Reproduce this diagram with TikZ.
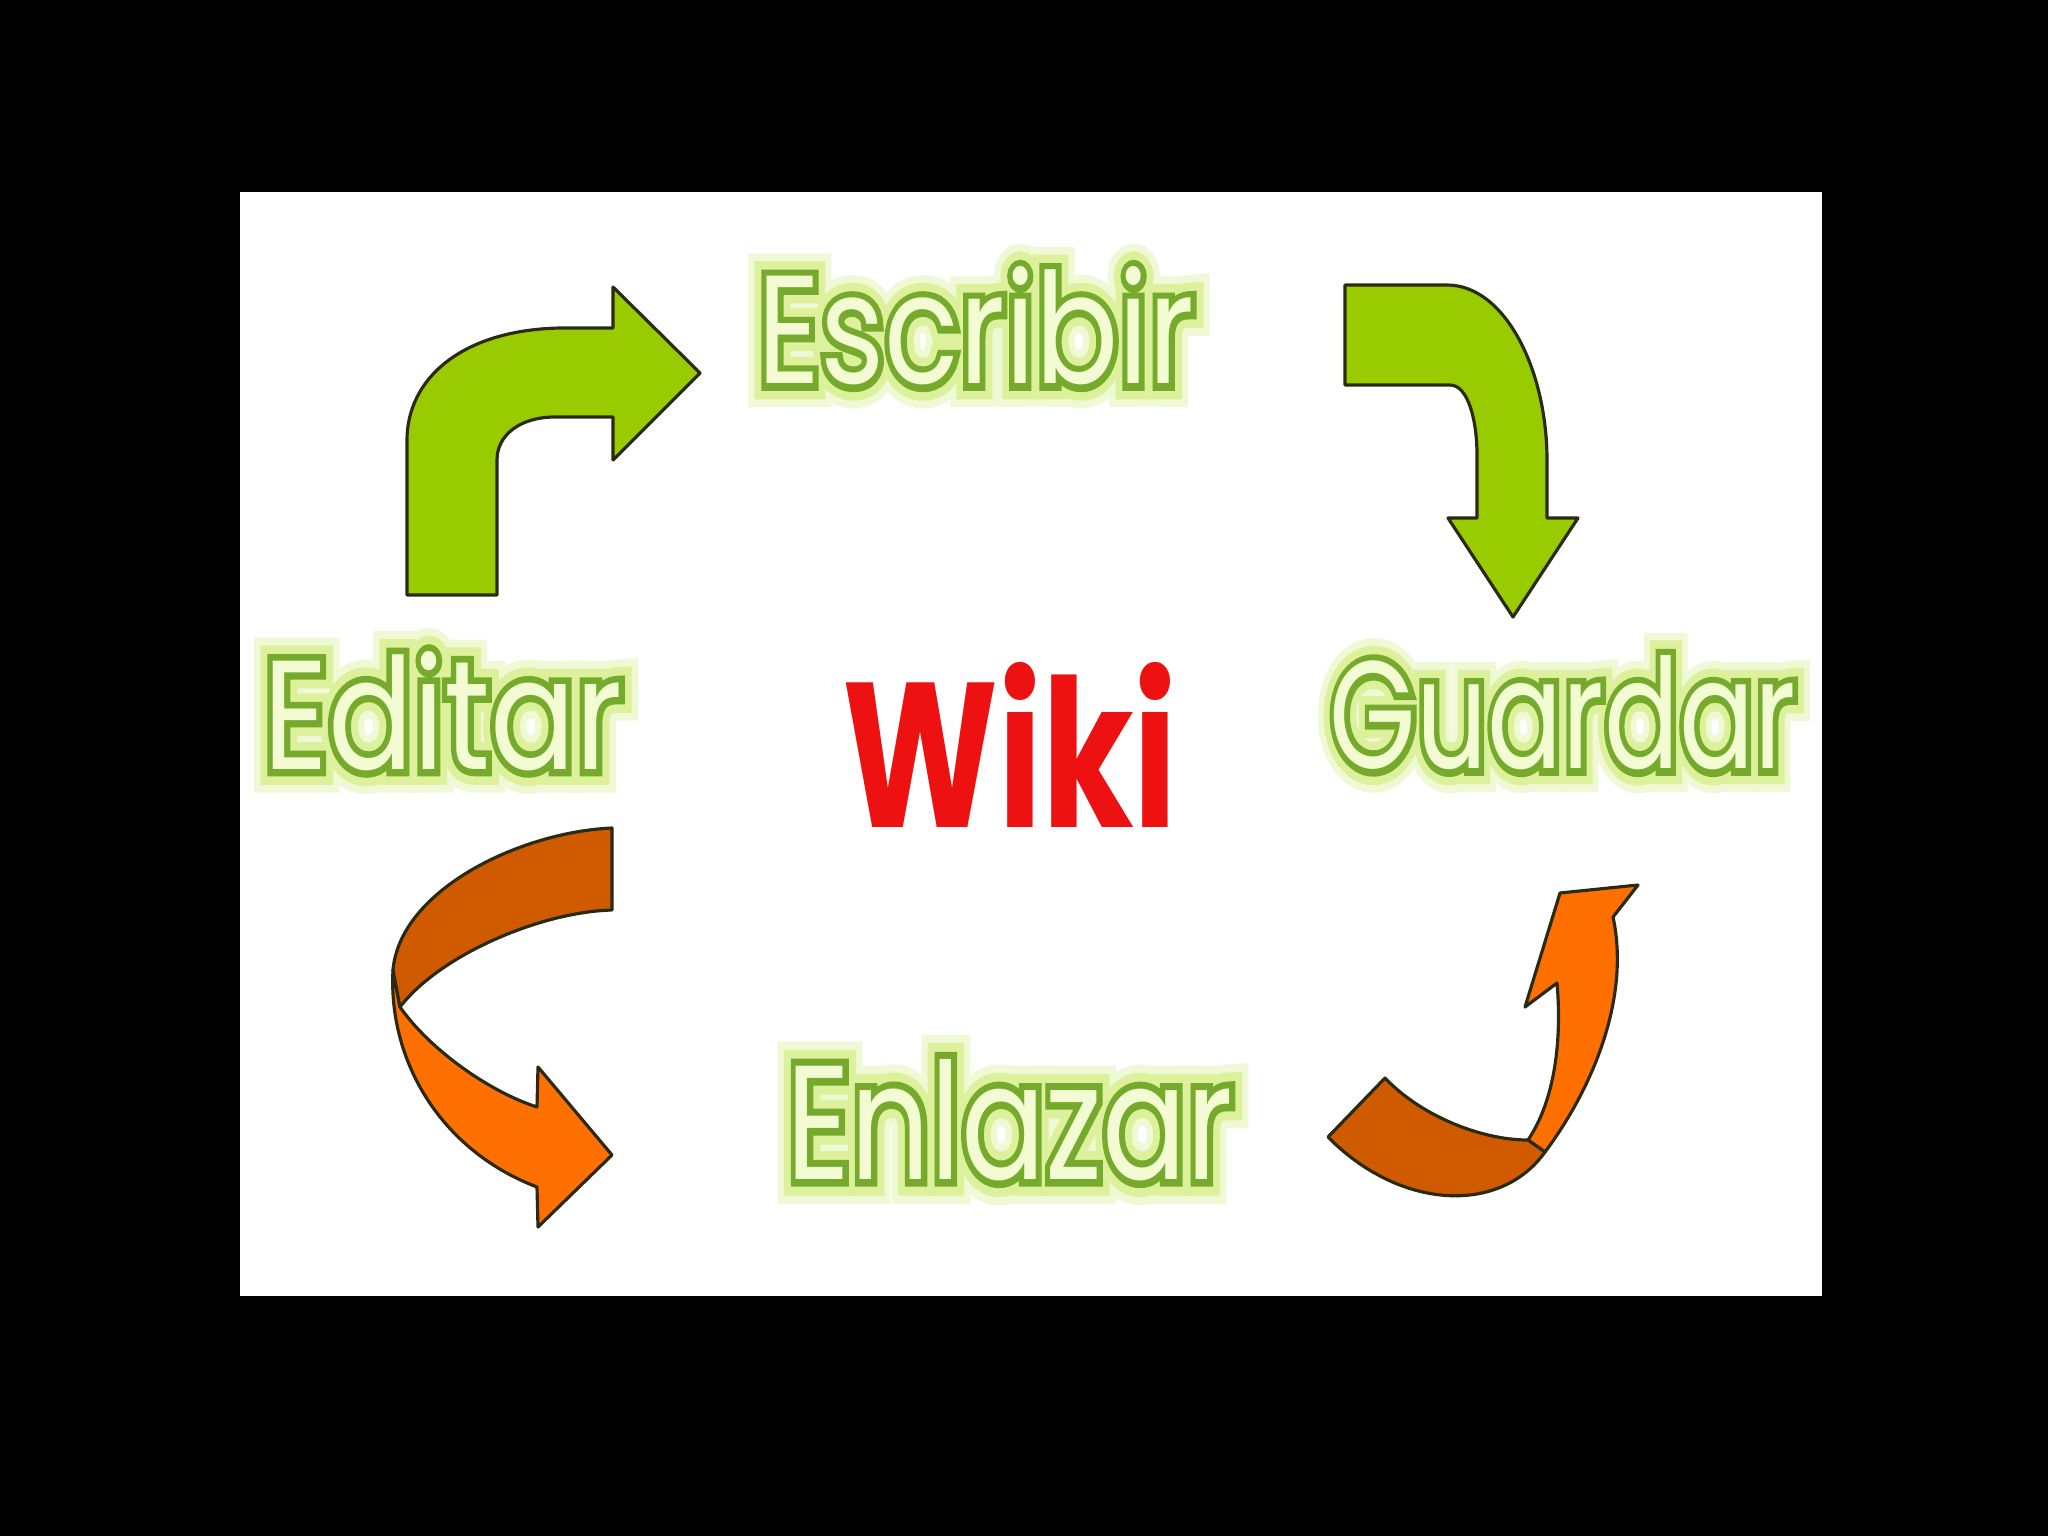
\documentclass[tikz,border=0pt]{standalone}
\usepackage{fontspec}
\setmainfont{Poppins}
\newfontfamily\glowfontA[FakeBold=30]{Poppins}
\newfontfamily\glowfontB[FakeBold=20]{Poppins}
\newfontfamily\edgefont[FakeBold=9]{Poppins}
\definecolor{arrowgreen}{HTML}{99CC00}
\definecolor{orangedark}{HTML}{D05A00}
\definecolor{orangelight}{HTML}{FF7000}
\definecolor{edgec}{HTML}{2A2A10}
\definecolor{darkg}{HTML}{76AA2C}
\definecolor{glowa}{HTML}{F0F9D6}
\definecolor{glowb}{HTML}{DDF19C}
\definecolor{fillc}{HTML}{F2FBD2}
\definecolor{wikired}{HTML}{EE1111}
\newcommand{\greenword}[5]{%
  \node[inner sep=0pt, text=glowa] (#1glowa) at (#2) {\resizebox{#3}{#4}{\glowfontA\fontsize{36}{40}\selectfont #5}};
  \node[inner sep=0pt, text=glowb] (#1glowb) at (#2) {\resizebox{#3}{#4}{\glowfontB\fontsize{36}{40}\selectfont #5}};
  \node[inner sep=0pt, text=darkg] (#1edge) at (#2) {\resizebox{#3}{#4}{\edgefont\fontsize{36}{40}\selectfont #5}};
  \node[inner sep=0pt, text=fillc] (#1) at (#2) {\resizebox{#3}{#4}{\fontsize{36}{40}\selectfont #5}};
}
\tikzset{
  shapearrow/.style={draw=edgec, line width=0.9pt, line join=round},
}
\begin{document}
\begin{tikzpicture}[x=0.01cm,y=-0.01cm]
\useasboundingbox (0,0) rectangle (2048,1536);
\fill[black] (0,0) rectangle (2048,1536);
\fill[white] (240,192) rectangle (1822,1296);

% top-left green arrow
\filldraw[shapearrow, fill=arrowgreen]
  (407,595) -- (407,440) .. controls (407,380) and (460,330) .. (560,328)
  -- (613,328) -- (613,287) -- (700,373) -- (613,460) -- (613,417) -- (555,417)
  .. controls (520,417) and (497,435) .. (497,460) -- (497,595) -- cycle;

% top-right green arrow
\filldraw[shapearrow, fill=arrowgreen]
  (1345,285) -- (1447,285) .. controls (1505,285) and (1547,370) .. (1547,460)
  -- (1547,518) -- (1578,518) -- (1513,617) -- (1448,518) -- (1477,518) -- (1477,455)
  .. controls (1477,420) and (1468,385) .. (1450,385) -- (1345,385) -- cycle;

% bottom-left orange ribbon arrow
\filldraw[shapearrow, fill=orangelight]
  (393,970) .. controls (388,1060) and (440,1150) .. (537,1187)
  -- (538,1227) -- (612,1155) -- (538,1067) -- (537,1107)
  .. controls (490,1092) and (430,1050) .. (400,1007) -- cycle;
\filldraw[shapearrow, fill=orangedark]
  (612,828) .. controls (520,832) and (400,890) .. (393,970)
  -- (400,1007) .. controls (440,955) and (540,912) .. (612,910) -- cycle;

% bottom-right orange ribbon arrow
\filldraw[shapearrow, fill=orangelight]
  (1528,1140) -- (1545,1152) .. controls (1595,1085) and (1630,995) .. (1613,917)
  -- (1638,885) -- (1560,893) -- (1525,1007) -- (1557,983)
  .. controls (1562,1040) and (1555,1100) .. (1528,1140) -- cycle;
\filldraw[shapearrow, fill=orangedark]
  (1385,1078) .. controls (1420,1115) and (1480,1140) .. (1528,1140)
  -- (1545,1152) .. controls (1500,1215) and (1400,1210) .. (1328,1137) -- cycle;

% words
\greenword{escribir}{976,326}{4.37cm}{1.17cm}{Escribir}
\greenword{editar}{443,711}{3.59cm}{1.18cm}{Editar}
\greenword{guardar}{1563,713}{4.66cm}{1.13cm}{Guardar}
\greenword{enlazar}{1010,1120}{4.46cm}{1.20cm}{Enlazar}
\node[inner sep=0pt, text=wikired] (wiki) at (1010,745) {\resizebox{3.35cm}{1.65cm}{\bfseries Wiki}};
\end{tikzpicture}
\end{document}
